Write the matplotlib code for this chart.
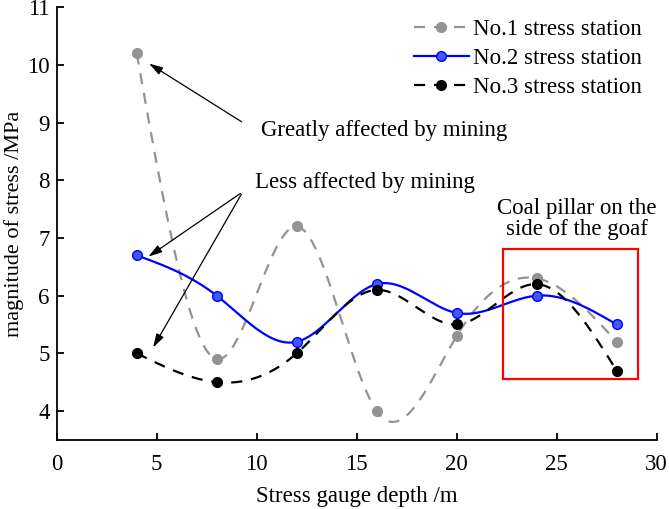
import numpy as np
import matplotlib

matplotlib.use("Agg")
import matplotlib.pyplot as plt
from matplotlib.patches import Rectangle

depth = [4, 8, 12, 16, 20, 24, 28]
station1 = [10.2, 4.9, 7.2, 4.0, 5.3, 6.3, 5.2]
station2 = [6.7, 6.0, 5.2, 6.2, 5.7, 6.0, 5.5]
station3 = [5.0, 4.5, 5.0, 6.1, 5.5, 6.2, 4.7]
labels = ["No.1 stress station", "No.2 stress station", "No.3 stress station"]


def natural_spline(x, y, n=300):
    """Natural cubic spline through the points, for drawing the smooth line."""
    x = np.asarray(x, float)
    y = np.asarray(y, float)
    k = len(x)
    h = np.diff(x)
    A = np.zeros((k, k))
    b = np.zeros(k)
    A[0, 0] = A[-1, -1] = 1
    for i in range(1, k - 1):
        A[i, i - 1] = h[i - 1]
        A[i, i] = 2 * (h[i - 1] + h[i])
        A[i, i + 1] = h[i]
        b[i] = 6 * ((y[i + 1] - y[i]) / h[i] - (y[i] - y[i - 1]) / h[i - 1])
    M = np.linalg.solve(A, b)
    xs = np.linspace(x[0], x[-1], n)
    idx = np.clip(np.searchsorted(x, xs) - 1, 0, k - 2)
    x0, x1 = x[idx], x[idx + 1]
    hh = x1 - x0
    t0, t1 = x1 - xs, xs - x0
    ys = (M[idx] * t0**3 + M[idx + 1] * t1**3) / (6 * hh) \
        + (y[idx] / hh - M[idx] * hh / 6) * t0 \
        + (y[idx + 1] / hh - M[idx + 1] * hh / 6) * t1
    return xs, ys


FS = 16.5
plt.rcParams["font.family"] = ["Liberation Serif", "DejaVu Serif"]
plt.rcParams["font.size"] = FS

fig = plt.figure(figsize=(6.69, 5.09), dpi=100)
ax = fig.add_axes([0.0848, 0.1359, 0.8968, 0.8497])

styles = [
    dict(color="#939393", ls=(0, (5, 4)), mfc="#939393", mec="#939393"),
    dict(color="#0000ff", ls="-", mfc="#3a5cff", mec="#0000ff"),
    dict(color="black", ls=(0, (5, 4)), mfc="black", mec="black"),
]
for vals, lab, st in zip([station1, station2, station3], labels, styles):
    xs, ys = natural_spline(depth, vals)
    ax.plot(xs, ys, color=st["color"], ls=st["ls"], lw=1.6, zorder=2)
    ax.plot(depth, vals, "o", ms=7, mfc=st["mfc"], mec=st["mec"], zorder=3)
    ax.plot([], [], color=st["color"], ls=st["ls"], lw=1.6, marker="o", ms=7,
            mfc=st["mfc"], mec=st["mec"], label=lab)

ax.add_patch(Rectangle((22.3, 4.55), 6.77, 2.26, fill=False, ec="red", lw=1.6, zorder=4))
ax.text(26.0, 7.33, "Coal pillar on the\nside of the goaf", ha="center", va="center",
        fontsize=FS, linespacing=1.05)

arrow = dict(arrowstyle="-|>,head_length=0.5,head_width=0.15", color="black", lw=0.9)
ax.annotate("", xy=(4.5, 10.05), xytext=(9.36, 8.99), arrowprops=arrow)
ax.text(10.2, 8.87, "Greatly affected by mining", ha="left", va="center", fontsize=FS)
ax.annotate("", xy=(4.47, 6.65), xytext=(9.3, 7.8), arrowprops=arrow)
ax.annotate("", xy=(4.75, 5.06), xytext=(9.3, 7.8), arrowprops=arrow)
ax.text(9.92, 7.97, "Less affected by mining", ha="left", va="center", fontsize=FS)

ax.set_xlim(0, 30)
ax.set_ylim(3.5, 11)
ax.set_xticks([0, 5, 10, 15, 20, 25, 30])
ax.set_yticks([4, 5, 6, 7, 8, 9, 10, 11])
ax.spines["top"].set_visible(False)
ax.spines["right"].set_visible(False)
for s in ("left", "bottom"):
    ax.spines[s].set_linewidth(1.3)
ax.tick_params(direction="in", length=5, width=1.3, labelsize=FS)
ax.tick_params(axis="x", pad=10)
ax.tick_params(axis="y", pad=5)
ax.set_xlabel("Stress gauge depth /m", fontsize=FS, labelpad=8)
ax.set_ylabel("magnitude of stress /MPa", fontsize=16, labelpad=2)

ax.legend(loc="upper right", bbox_to_anchor=(0.995, 1.0), frameon=False, fontsize=FS,
          handlelength=2.4, handletextpad=0.2, labelspacing=0.35, borderaxespad=0.1)

fig.savefig("out.png", dpi=100)
